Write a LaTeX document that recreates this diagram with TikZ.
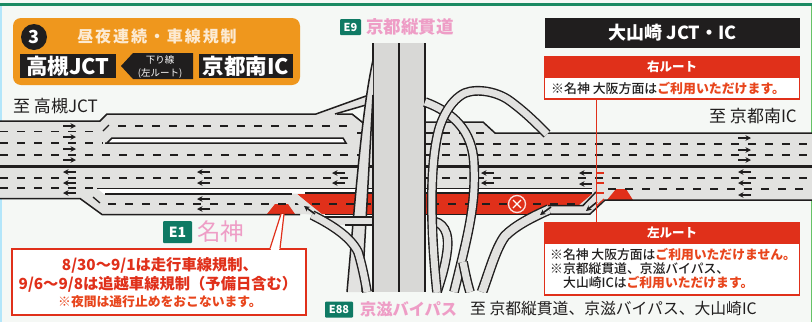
\documentclass[tikz,border=0pt]{standalone}
\usepackage{fontspec}
\setmainfont{Noto Sans CJK JP}
\newfontfamily\medf{Noto Sans CJK JP Medium}
\usetikzlibrary{arrows.meta}
\definecolor{bgc}{HTML}{F5F8F5}
\definecolor{roadc}{HTML}{E2E2E0}
\definecolor{inkc}{HTML}{201E1E}
\definecolor{redc}{HTML}{E0301A}
\definecolor{orangec}{HTML}{EF971D}
\definecolor{pinkc}{HTML}{EE9DC6}
\definecolor{greenc}{HTML}{0F7A64}
\definecolor{framec}{HTML}{1A8A62}
\definecolor{warnc}{HTML}{E8451C}
\tikzset{
  x=1pt,y=-1pt,
  fs/.style={font=\fontsize{#1}{#1}\selectfont},
  fsb/.style={font=\fontsize{#1}{#1}\selectfont\bfseries},
  fsm/.style={font=\fontsize{#1}{#1}\selectfont\medf},
  txt/.style={inner sep=0pt,text=inkc},
  edge/.style={draw=inkc,line width=1.5pt},
  lane/.style={draw=inkc,line width=1.4pt,dash pattern=on 8pt off 9pt},
  rampway/.style={draw=inkc,line width=1.4pt,double=roadc,double distance=#1},
  rampway/.default=8pt,
  mv/.style={-{Stealth[length=5.5pt,width=5.5pt]},draw=inkc,line width=1.6pt},
  blackbox/.style={fill=inkc,text=white,inner sep=0pt},
  badge/.style={fill=greenc,text=white,rounded corners=1pt,inner sep=0pt,font=\fontsize{11}{11}\selectfont\bfseries},
  callout/.style={draw=redc,line width=1.2pt},
  headbar/.style={fill=redc,draw=redc,line width=1pt,text=white,inner sep=0pt,minimum width=255pt,minimum height=21pt},
  bodybox/.style={fill=white,draw=redc,line width=1.4pt,inner sep=0pt}
}
\newcommand{\ok}[1]{\textcolor{warnc}{#1}}
\begin{document}
\begin{tikzpicture}
\useasboundingbox (0,0) rectangle (812,322);
\fill[bgc] (0,0) rectangle (812,322);
\fill[framec] (0,3) rectangle (812,6);
\fill[white!70!cyan] (0,6) rectangle (1.5,322);
\fill[green!60!black!60] (810.5,6) rectangle (812,322);

% ---------- road base
\begin{scope}
\clip (0,43) rectangle (812,292);
\fill[roadc] (0,121) -- (100,121) -- (107,114) -- (352,114) -- (362,122) -- (483,122) -- (495,133)
  -- (812,133) -- (812,200) -- (605,200) -- (590,214) -- (102,214) -- (80,198) -- (0,198) -- cycle;
% left ramp to E9
\fill[roadc] (316,114) -- (366,96) -- (366,105) -- (335,114) -- cycle;
% red closed zones
\fill[redc] (297,194) -- (592,194) -- (579,205) -- (548,205) -- (535,214) -- (322,214) -- cycle;
\fill[redc] (267,214) -- (275,204) -- (288,204) -- (295,214) -- cycle;
\fill[redc] (607,200) -- (616,189) -- (626,189) -- (633,200) -- cycle;
% islands
\fill[white] (112,138) -- (343,138) -- (346,143) -- (107,143) -- cycle;
\fill[white] (98,189) -- (592,189) -- (592,193) -- (104,194) -- cycle;
% edges
\draw[edge] (0,121) -- (100,121) -- (107,114) -- (316,114) -- (366,96);
\draw[edge] (335,114) -- (366,105);
\draw[edge] (337,114) -- (352,114) -- (362,122) -- (373,122);
\draw[edge] (425,122) -- (483,122) -- (495,133) -- (812,133);
\draw[edge,line width=2.2pt] (0,166.5) -- (812,166.5);
\draw[edge] (105,143) -- (346,143) -- (343,138) -- (112,138) -- (107,143);
\draw[edge] (97,188.5) -- (592,188.5);
\draw[edge] (105,194) -- (292,194);
\draw[edge] (0,198.5) -- (80,198.5) -- (102,214.5) -- (300,214.5);
\draw[edge] (325,214.5) -- (536,214.5);
\draw[edge] (812,200) -- (605,200) -- (590,214) -- (549,214);
\draw[edge] (548,205.5) -- (583,205.5) -- (596,192);
\draw[edge,line width=1.1pt] (592,193) -- (305,193);
% lanes
\draw[lane] (0,131.5) -- (100,131.5);
\draw[lane] (0,143) -- (103,143);
\draw[lane] (0,155) -- (373,155);
\draw[lane] (118,126) -- (350,126);
\draw[lane] (357,133) -- (373,133);
\draw[lane] (425,133) -- (490,133);
\draw[lane] (425,144) -- (812,144);
\draw[lane] (425,155) -- (812,155);
\draw[lane] (0,178) -- (812,178);
\draw[lane] (0,188) -- (95,188);
\draw[lane] (608,189) -- (812,189);
\draw[lane] (108,204) -- (582,204);
\draw[edge,line width=1.3pt] (103,131) -- (109,125);
\draw[edge,line width=1.3pt] (93,197) -- (100,203);
% E9 trunk
\fill[roadc!90!gray] (373,43) rectangle (425,292);
\draw[edge] (373,43) -- (373,292);
\draw[edge] (399,43) -- (399,292);
\draw[edge] (425,43) -- (425,292);
% strip left of trunk
\fill[roadc] (373,60) .. controls (362,110) and (356,190) .. (347,292) -- (362,292)
  .. controls (366,220) and (370,150) .. (373,95) -- cycle;
\draw[edge] (373,60) .. controls (362,110) and (356,190) .. (347,292);
\draw[edge] (373,95) .. controls (370,150) and (366,220) .. (362,292);
% connecting strip under road
\fill[roadc] (322,217) rectangle (372,225);
\draw[edge] (325,217) -- (372,217);
\draw[edge] (345,225) -- (372,225);
% exit ramp lower left
\fill[roadc] (297,194) -- (322,216) -- (306,214) -- (295,200) -- cycle;
\draw[rampway=7pt] (312,215) .. controls (330,224) and (350,236) .. (358,252)
  .. controls (362,265) and (365,280) .. (367,292);
% right side ramps
\draw[rampway=7pt] (425,102) .. controls (452,112) and (473,130) .. (474,165)
  .. controls (476,205) and (468,235) .. (454,292);
\draw[rampway=7pt] (463,262) .. controls (465,272) and (467,282) .. (470,292);
\draw[rampway=7pt] (430,221) .. controls (443,221) and (450,232) .. (447,252)
  .. controls (445,268) and (440,282) .. (437,292);
% big loop
\draw[rampway=7pt] (437,292) .. controls (431,235) and (429,170) .. (438,133)
  .. controls (441,120) and (450,100) .. (465,93) .. controls (478,88) and (498,92) .. (510,101)
  .. controls (525,112) and (535,122) .. (547,134);
% exit ramp right
\draw[rampway=8pt] (549,209.5) .. controls (530,218) and (515,226) .. (505,236)
  .. controls (496,248) and (490,270) .. (482,292);
% manoeuvre arrows
\foreach \y in {126,137,149,160}{\draw[mv] (63,\y) -- (76,\y);}
\foreach \y in {138,150,160}{\draw[mv] (738,\y) -- (751,\y);}
\foreach \y in {172,183,193}{\draw[mv] (76,\y) -- (63,\y);}
\foreach \y in {172,183,195}{\draw[mv] (751,\y) -- (738,\y);}
\foreach \x/\y in {210/172,210/183,210/199,210/209,345/173,345/183,494/173,494/183,592/173,592/184}{
  \draw[mv] (\x,\y) -- ++(-13,0);}
\draw[mv] (315,214) -- (304,206);
\draw[mv] (597,202) -- (586,211);
\draw[mv] (551,207) -- (540,215);
\end{scope}

% prohibition mark
\node[circle,fill=redc,draw=white!85!redc,line width=1.3pt,minimum size=17pt,inner sep=0pt] (stopmark) at (517,204) {};
\draw[white,line width=1.1pt] (513,200) -- (521,208) (521,200) -- (513,208);

% ---------- header
\fill[orangec,rounded corners=8pt] (13,18) rectangle (300,85);
\node[circle,fill=inkc,text=white,minimum size=26pt,inner sep=0pt,fsb=18] (num) at (34,37) {3};
\node[inner sep=0pt,text=white!80!orangec,fsb=16] (title) at (157,36) {\addfontfeature{LetterSpace=12}昼夜連続・車線規制};
\node[blackbox,minimum width=96pt,minimum height=24pt,fsb=21.5] (from) at (68,66) {高槻JCT};
\fill[inkc] (121,66) -- (133,53) -- (193,53) -- (193,79) -- (133,79) -- cycle;
\node[inner sep=0pt,text=white,fs=9.5] (dirA) at (160,60) {下り線};
\node[inner sep=0pt,text=white,fs=9.5] (dirB) at (160,73) {(左ルート)};
\node[blackbox,minimum width=94pt,minimum height=24pt,fsb=21.5] (to) at (246,66) {京都南IC};

% ---------- road labels
\node[txt,anchor=west,fs=17] (lblA) at (13,106) {至 高槻JCT};
\node[txt,anchor=west,fs=17] (lblB) at (709,116) {至 京都南IC};
\node[badge,minimum width=21pt,minimum height=16pt] (e9) at (350.5,27) {E9};
\node[inner sep=0pt,anchor=west,text=pinkc,fsb=17.5] (e9t) at (366,27) {京都縦貫道};
\node[badge,minimum width=29pt,minimum height=22pt,font=\fontsize{14}{14}\selectfont\bfseries] (e1) at (177.5,232) {E1};
\node[inner sep=0pt,anchor=west,text=pinkc,fs=23.5] (e1t) at (197,232) {名神};
\node[badge,minimum width=28pt,minimum height=16pt] (e88) at (339,309.5) {E88};
\node[inner sep=0pt,anchor=west,text=pinkc,fsb=16.2] (e88t) at (360,309) {京滋バイパス};
\node[txt,anchor=west,fs=15.8] (dest) at (470,309) {至 京都縦貫道、京滋バイパス、大山崎IC};

% ---------- right panels
\node[blackbox,minimum width=255pt,minimum height=30pt,fsb=18] (jct) at (672.5,33) {大山崎 JCT・IC};
\node[headbar,fsb=12.5] (rh) at (672,66.5) {右ルート};
\node[bodybox,minimum width=255pt,minimum height=22pt] (rb) at (672,88) {};
\node[txt,anchor=west,fsm=12.9] (rt) at (551,88) {※名神 大阪方面は\ok{\bfseries ご利用いただけます。}};
\node[headbar,fsb=12.5] (lh) at (672,232.5) {左ルート};
\node[bodybox,minimum width=255pt,minimum height=52pt] (lb) at (672,269) {};
\node[txt,anchor=west,fsm=12.8] (lt1) at (550,255) {※名神 大阪方面は\ok{\bfseries ご利用いただけません。}};
\node[txt,anchor=west,fsm=12.8] (lt2) at (550,269) {※京都縦貫道、京滋バイパス、};
\node[txt,anchor=west,fsm=12.8] (lt3) at (563,283) {大山崎ICは\ok{\bfseries ご利用いただけます。}};
\coordinate (st1) at (604,173);
\coordinate (st2) at (604,183);
\coordinate (st3) at (604,193);
\draw[callout] (rb.south -| 596.5,0) -- (lb.north -| 596.5,0) ;
\draw[callout] (596.5,173) -- (st1);
\draw[callout] (596.5,183) -- (st2);
\draw[callout] (596.5,193) -- (st3);
\draw[callout] (596.5,206) -- (604,199);

% ---------- left callout
\node[bodybox,minimum width=294pt,minimum height=66pt] (note) at (159,282) {};
\coordinate (tipA) at (281,214);
\coordinate (tipB) at (284,214);
\fill[white] (270,249) -- (tipA) -- (tipB) -- (280,249) -- cycle;
\draw[callout] (270,248.5) -- (tipA);
\draw[callout] (280,248.5) -- (tipB);
\fill[white] (271,247.5) rectangle (279,250.5);
\node[inner sep=0pt,text=redc,fsb=15.3] (n1) at (160,265) {8/30～9/1は走行車線規制、};
\node[inner sep=0pt,text=redc,fsb=15.3] (n2) at (158,284) {9/6～9/8は追越車線規制（予備日含む）};
\node[inner sep=0pt,text=warnc,fsb=12.8] (n3) at (160,302) {※夜間は通行止めをおこないます。};
\end{tikzpicture}
\end{document}
